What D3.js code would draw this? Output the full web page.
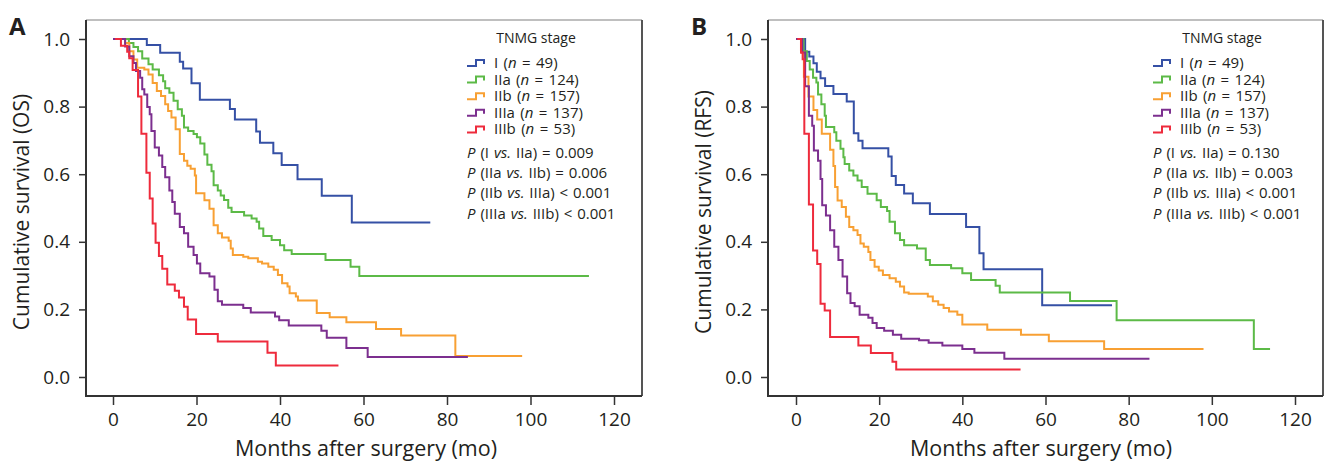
<!DOCTYPE html>
<html>
<head>
<meta charset="utf-8">
<script src="https://cdn.jsdelivr.net/npm/d3@7"></script>
<style>
  body { margin: 0; background: #fff; }
  svg text { font-family: "Open Sans", "Noto Sans", sans-serif; fill: #231f20; }
</style>
</head>
<body>
<div id="chart"></div>
<script>
// Kaplan-Meier curves by TNMG stage, OS (A) and RFS (B)

const stages = ["I", "IIa", "IIb", "IIIa", "IIIb"];
const stageN = [49, 124, 157, 137, 53];
const xTicks = [0, 20, 40, 60, 80, 100, 120];
const yTicks = [0.0, 0.2, 0.4, 0.6, 0.8, 1.0];

// [month, survival] step corners, last point = end of follow-up
const osI = [[0,1],[8.1,0.982],[11.3,0.959],[16,0.933],[16.8,0.913],[18.8,0.869],[20.8,0.82],[28,0.793],[29.2,0.762],[34.3,0.726],[35.2,0.693],[38.4,0.662],[40.4,0.627],[44.2,0.585],[50,0.536],[57.2,0.457],[76,0.457]];
const osIIa = [[0,1],[3.8,0.988],[4.9,0.976],[6,0.964],[7,0.942],[8.5,0.925],[9.5,0.91],[11,0.893],[12,0.875],[12.5,0.854],[13.5,0.841],[14.5,0.817],[15.5,0.792],[16.5,0.773],[17,0.738],[18,0.728],[19.3,0.719],[20.1,0.709],[20.9,0.691],[21.9,0.658],[22.6,0.628],[23.6,0.609],[24.1,0.567],[25.1,0.552],[25.8,0.537],[26.6,0.524],[27.6,0.501],[28.4,0.488],[31.4,0.478],[33.2,0.469],[34.4,0.459],[35,0.439],[36,0.417],[38,0.405],[40,0.39],[41,0.375],[42.8,0.364],[50.9,0.346],[56.9,0.326],[59,0.299],[114,0.299]];
const osIIb = [[0,1],[2.9,0.988],[3.9,0.964],[4.9,0.939],[5.8,0.915],[7.5,0.91],[8.5,0.895],[9.5,0.87],[10.5,0.846],[11.5,0.831],[12.5,0.807],[13.2,0.787],[14,0.768],[15,0.733],[16,0.66],[17,0.64],[17.8,0.625],[18.6,0.616],[19.6,0.596],[19.9,0.544],[21.9,0.523],[23.1,0.498],[24.1,0.449],[25.1,0.425],[26.1,0.413],[27.7,0.403],[28.2,0.38],[28.7,0.361],[31.2,0.356],[32.4,0.351],[34.7,0.341],[35.7,0.336],[37.2,0.326],[38.5,0.317],[39.5,0.302],[40.5,0.277],[41.8,0.268],[42.3,0.248],[43.8,0.238],[44.3,0.226],[48.8,0.189],[51.9,0.177],[55.9,0.162],[63,0.142],[69,0.123],[82,0.062],[98,0.062]];
const osIIIa = [[0,1],[2.9,0.978],[3.9,0.949],[4.9,0.929],[5.5,0.905],[6.5,0.885],[7,0.851],[7.5,0.836],[8.2,0.799],[8.8,0.777],[9.2,0.728],[10,0.679],[11,0.655],[11.8,0.621],[12.5,0.591],[13.5,0.552],[14.2,0.518],[14.8,0.483],[16,0.444],[17,0.425],[18,0.385],[19.3,0.361],[20.1,0.336],[20.9,0.307],[23.1,0.297],[24.3,0.258],[25.1,0.224],[26.1,0.214],[31.2,0.204],[33,0.191],[38.8,0.179],[39.8,0.168],[42.1,0.152],[49.9,0.137],[51.2,0.116],[55.9,0.086],[61,0.059],[85,0.059]];
const osIIIb = [[0.5,1],[1.9,0.98],[3.4,0.962],[3.9,0.943],[4.7,0.908],[6,0.83],[6.8,0.72],[8,0.604],[8.8,0.528],[9.5,0.454],[10.2,0.397],[11,0.358],[11.8,0.32],[13,0.274],[14.8,0.255],[15.8,0.235],[17,0.208],[17.9,0.17],[19.9,0.127],[25.1,0.105],[37,0.072],[39,0.034],[54,0.034]];

const rfsI = [[0,1],[2.2,0.962],[3.2,0.948],[4.2,0.928],[5,0.903],[5.9,0.884],[7,0.861],[9,0.837],[12.2,0.815],[13.9,0.721],[15,0.699],[16,0.677],[22.2,0.652],[23,0.595],[24,0.568],[26,0.543],[28.1,0.514],[32.2,0.482],[40.9,0.444],[44.1,0.366],[45.1,0.319],[59.2,0.212],[76,0.212]];
const rfsIIa = [[0,1],[1.8,0.964],[2.6,0.935],[3.3,0.91],[4.1,0.885],[4.9,0.871],[5.3,0.836],[6.1,0.807],[6.9,0.773],[7.2,0.74],[9.2,0.724],[9.7,0.699],[10.7,0.675],[11.4,0.65],[11.7,0.63],[12.8,0.611],[13.8,0.596],[14.8,0.581],[15.8,0.562],[17.2,0.542],[19.4,0.523],[20.4,0.503],[21.9,0.491],[22.5,0.459],[23.8,0.425],[25,0.405],[26,0.39],[29.1,0.38],[31.2,0.346],[32.2,0.331],[37.3,0.322],[40,0.307],[42.1,0.287],[48,0.27],[49,0.25],[65.9,0.225],[77.1,0.168],[110.1,0.083],[114,0.083]];
const rfsIIb = [[0,1],[1.2,0.96],[1.9,0.888],[3,0.83],[4.2,0.79],[5.1,0.762],[6.2,0.72],[8.2,0.672],[9,0.624],[9.4,0.562],[10,0.522],[11,0.503],[12,0.474],[12.8,0.444],[13.8,0.434],[14.8,0.42],[15.5,0.395],[16.3,0.385],[17.4,0.37],[17.9,0.346],[18.9,0.326],[19.9,0.315],[20.9,0.302],[22.5,0.292],[24,0.282],[25,0.268],[26,0.25],[27.1,0.246],[31.7,0.238],[32.9,0.224],[34.2,0.214],[35.5,0.204],[36.8,0.194],[38.8,0.184],[40,0.155],[46,0.14],[54.1,0.125],[60.8,0.106],[74.1,0.083],[98,0.083]];
const rfsIIIa = [[0,1],[1.5,0.96],[2.2,0.86],[3.1,0.773],[3.9,0.743],[4.3,0.67],[5.3,0.64],[5.9,0.586],[6.3,0.508],[7.2,0.478],[8.2,0.434],[9.2,0.385],[10.2,0.346],[11.2,0.297],[12.3,0.248],[13.1,0.219],[14.1,0.209],[15.3,0.184],[17.4,0.175],[18.4,0.16],[19.4,0.145],[21.2,0.137],[23.3,0.125],[25.3,0.113],[29.6,0.109],[31.9,0.101],[35.2,0.093],[40,0.083],[42.9,0.072],[50.1,0.054],[85,0.054]];
const rfsIIIb = [[0.3,1],[1.2,0.96],[1.6,0.94],[2,0.72],[3.1,0.51],[4.1,0.374],[5.1,0.334],[5.9,0.217],[6.9,0.197],[8.2,0.118],[15,0.093],[18,0.071],[23.2,0.045],[24.1,0.022],[54,0.022]];

const pLabelsOS = [["I", "IIa", "= 0.009"], ["IIa", "IIb", "= 0.006"], ["IIb", "IIIa", "< 0.001"], ["IIIa", "IIIb", "< 0.001"]];
const pLabelsRFS = [["I", "IIa", "= 0.130"], ["IIa", "IIb", "= 0.003"], ["IIb", "IIIa", "< 0.001"], ["IIIa", "IIIb", "< 0.001"]];

const colors = ["#3550a5", "#5cba47", "#f8a033", "#7c2f8f", "#ee2b3c"];

const width = 1326, height = 461;
const svg = d3.select('#chart').append('svg')
    .attr('width', width)
    .attr('height', height);

const panels = [
    { label: 'A', yTitle: 'Cumulative survival (OS)', curves: [osI, osIIa, osIIb, osIIIa, osIIIb], pLabels: pLabelsOS,
      frame: [86, 20, 642, 396], xRange: [113, 614], legendX: 467, titleX: 29, xTitleX: 366 },
    { label: 'B', yTitle: 'Cumulative survival (RFS)', curves: [rfsI, rfsIIa, rfsIIb, rfsIIIa, rfsIIIb], pLabels: pLabelsRFS,
      frame: [768, 20, 1323, 396], xRange: [796, 1295], legendX: 1153, titleX: 711, xTitleX: 1041 }
];

panels.forEach(p => {
    const [fl, ft, fr, fb] = p.frame;
    const x = d3.scaleLinear().domain([0, 120]).range(p.xRange);
    const y = d3.scaleLinear().domain([0, 1]).range([377, 39]);
    const g = svg.append('g');

    // frame
    g.append('line').attr('x1', fl).attr('x2', fr).attr('y1', ft).attr('y2', ft)
        .attr('stroke', '#aaa').attr('stroke-width', 1.5);
    g.append('line').attr('x1', fr).attr('x2', fr).attr('y1', ft).attr('y2', fb)
        .attr('stroke', '#555').attr('stroke-width', 2);
    g.append('path').attr('d', `M${fl},${ft}V${fb}H${fr}`)
        .attr('fill', 'none').attr('stroke', '#333').attr('stroke-width', 2);

    // y axis
    const yAxis = g.append('g').attr('transform', `translate(${fl},0)`)
        .call(d3.axisLeft(y).tickValues(yTicks).tickFormat(d3.format('.1f')).tickSize(7).tickPadding(9));
    yAxis.select('.domain').remove();
    yAxis.selectAll('line').attr('stroke', '#333').attr('stroke-width', 1.5);
    yAxis.selectAll('text').style('font-size', '19px').attr('fill', '#231f20');

    // x axis
    const xAxis = g.append('g').attr('transform', `translate(0,${fb})`)
        .call(d3.axisBottom(x).tickValues(xTicks).tickSize(9).tickPadding(8));
    xAxis.select('.domain').remove();
    xAxis.selectAll('line').attr('stroke', '#333').attr('stroke-width', 1.5);
    xAxis.selectAll('text').style('font-size', '19px').attr('fill', '#231f20');

    // axis titles
    g.append('text')
        .attr('transform', `translate(${p.titleX},212) rotate(-90)`)
        .attr('text-anchor', 'middle')
        .style('font-size', '21px')
        .text(p.yTitle);
    g.append('text')
        .attr('x', p.xTitleX).attr('y', 456)
        .attr('text-anchor', 'middle')
        .style('font-size', '21.5px')
        .text('Months after surgery (mo)');

    // panel label
    g.append('text')
        .attr('x', fl - 77).attr('y', 35)
        .style('font-size', '24px').style('font-weight', 'bold')
        .text(p.label);

    // survival curves
    const line = d3.line()
        .x(d => x(d[0]))
        .y(d => y(d[1]))
        .curve(d3.curveStepAfter);

    p.curves.forEach((c, i) => {
        g.append('path')
            .datum(c)
            .attr('d', line)
            .attr('fill', 'none')
            .attr('stroke', colors[i])
            .attr('stroke-width', 2);
    });

    // legend
    const lg = g.append('g');
    lg.append('text')
        .attr('x', p.legendX + 69).attr('y', 43)
        .attr('text-anchor', 'middle')
        .style('font-size', '14px')
        .text('TNMG stage');

    const sym = d3.line().curve(d3.curveStepAfter);
    stages.forEach((s, i) => {
        const cy = 63 + i * 16.6;
        lg.append('path')
            .attr('d', sym([[p.legendX, cy + 3], [p.legendX + 9, cy - 3], [p.legendX + 17, cy + 1], [p.legendX + 17, cy + 1]]))
            .attr('fill', 'none')
            .attr('stroke', colors[i])
            .attr('stroke-width', 2);
        const t = lg.append('text')
            .attr('x', p.legendX + 27).attr('y', cy + 5)
            .style('font-size', '15px')
            .style('word-spacing', '1.5px');
        t.append('tspan').text(`${s} (`);
        t.append('tspan').style('font-style', 'italic').text('n');
        t.append('tspan').text(` = ${stageN[i]})`);
    });

    p.pLabels.forEach((pl, i) => {
        const t = lg.append('text')
            .attr('x', p.legendX).attr('y', 158 + i * 20.2)
            .style('font-size', '15px')
            .style('word-spacing', '1px');
        t.append('tspan').style('font-style', 'italic').text('P');
        t.append('tspan').text(` (${pl[0]} `);
        t.append('tspan').style('font-style', 'italic').text('vs.');
        t.append('tspan').text(` ${pl[1]}) ${pl[2]}`);
    });
});
</script>
</body>
</html>
